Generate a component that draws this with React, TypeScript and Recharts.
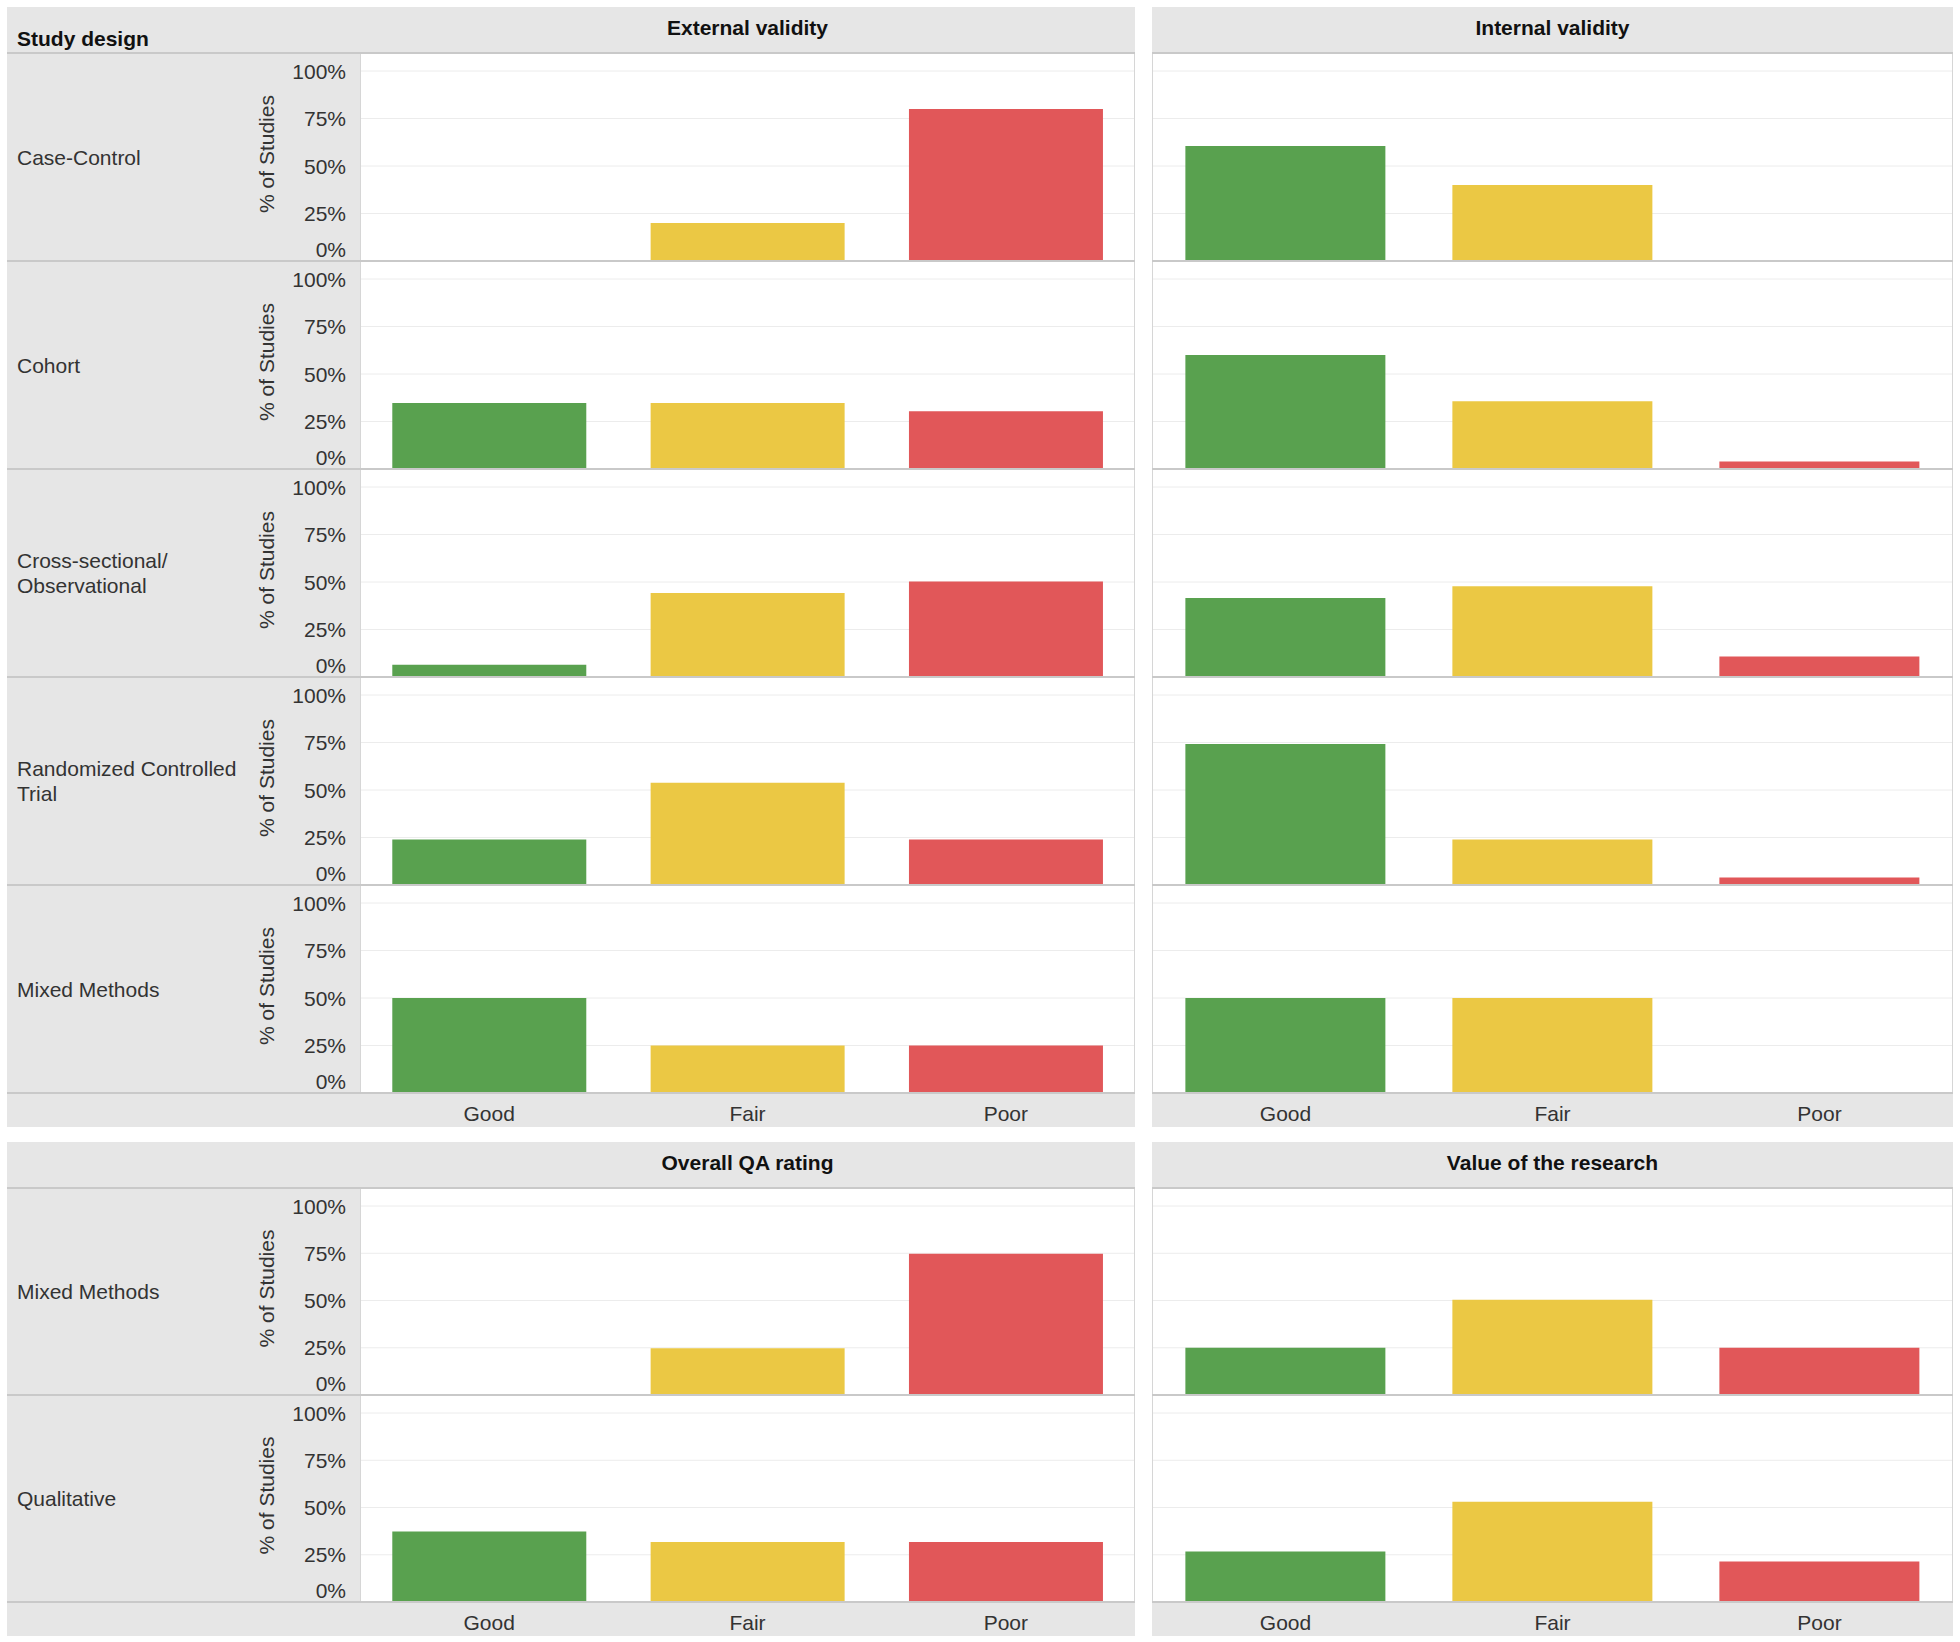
import { BarChart, Bar, XAxis, YAxis, CartesianGrid, Cell } from 'recharts';

const ratings = ['Good', 'Fair', 'Poor'];
const ratingColors = ['#59a14f', '#ebc844', '#e15759'];
const pctTicks = [0, 25, 50, 75, 100];

const topDesigns = [
  'Case-Control',
  'Cohort',
  'Cross-sectional/\nObservational',
  'Randomized Controlled\nTrial',
  'Mixed Methods',
];
const externalValidity = [
  [0, 20, 80],
  [34.7, 34.7, 30.4],
  [6.5, 44.2, 50.3],
  [23.9, 53.8, 23.9],
  [50, 25, 25],
];
const internalValidity = [
  [60.5, 40, 0],
  [60, 35.6, 4],
  [41.6, 47.8, 10.8],
  [74.2, 23.9, 3.9],
  [50, 50, 0],
];

const bottomDesigns = ['Mixed Methods', 'Qualitative'];
const overallQa = [
  [0, 24.8, 74.8],
  [37.3, 31.8, 31.8],
];
const researchValue = [
  [25, 50.4, 25],
  [26.7, 53, 21.4],
];

const GREY = '#e6e6e6';
const LINE = '#c9c9c9';
const TEXT = '#333333';
const FONT = 21;
const HEADER_H = 46;
const AXIS_H = 34;
const CHART_X = 200; // left chart starts inside the label column so the y axis sits there

function PctTick({ y, payload }: any) {
  const v = payload.value;
  return (
    <text x={146} y={v === 0 ? y - 12 : y} textAnchor="end" dominantBaseline="central" fontSize={FONT} fill={TEXT}>
      {`${v}%`}
    </text>
  );
}

function CategoryTick({ x, y, payload }: any) {
  return (
    <text x={x} y={y + 20} textAnchor="middle" dominantBaseline="central" fontSize={FONT} fill={TEXT}>
      {payload.value}
    </text>
  );
}

function StudiesLabel({ viewBox }: any) {
  const cy = viewBox ? viewBox.y + viewBox.height / 2 - 12 : 101;
  return (
    <text
      x={66}
      y={cy}
      transform={`rotate(-90, 66, ${cy})`}
      textAnchor="middle"
      dominantBaseline="central"
      fontSize={FONT}
      fill={TEXT}
    >
      % of Studies
    </text>
  );
}

interface PanelChartProps {
  values: number[];
  width: number;
  height: number;
  withAxis: boolean;
  withCategories: boolean;
}

function PanelChart({ values, width, height, withAxis, withCategories }: PanelChartProps) {
  const data = ratings.map((rating, i) => ({ rating, value: values[i] }));
  return (
    <BarChart
      width={width}
      height={height}
      data={data}
      margin={{ top: 18, right: 0, bottom: 0, left: 0 }}
      barCategoryGap="12.5%"
    >
      <CartesianGrid vertical={false} stroke="#ececec" />
      <XAxis
        dataKey="rating"
        hide={!withCategories}
        height={AXIS_H}
        axisLine={false}
        tickLine={false}
        tickSize={0}
        tickMargin={0}
        interval={0}
        tick={<CategoryTick />}
      />
      <YAxis
        type="number"
        domain={[0, 100]}
        ticks={pctTicks}
        interval={0}
        hide={!withAxis}
        width={160}
        axisLine={false}
        tickLine={false}
        tick={<PctTick />}
        label={<StudiesLabel />}
      />
      <Bar dataKey="value" isAnimationActive={false}>
        {data.map((d, i) => (
          <Cell key={d.rating} fill={ratingColors[i]} />
        ))}
      </Bar>
    </BarChart>
  );
}

interface BlockProps {
  top: number;
  rowH: number;
  designs: string[];
  leftTitle: string;
  rightTitle: string;
  leftValues: number[][];
  rightValues: number[][];
  showStudyDesign?: boolean;
}

function Block({ top, rowH, designs, leftTitle, rightTitle, leftValues, rightValues, showStudyDesign }: BlockProps) {
  const bodyTop = top + HEADER_H;
  const bodyH = rowH * designs.length;
  const last = designs.length - 1;
  const titleStyle: any = {
    position: 'absolute',
    top: 9,
    textAlign: 'center',
    fontWeight: 'bold',
    fontSize: FONT,
    lineHeight: '24px',
    color: '#111',
  };

  return (
    <>
      <div style={{ position: 'absolute', left: 7, top, width: 1128, height: HEADER_H, background: GREY }}>
        {showStudyDesign && (
          <div style={{ position: 'absolute', left: 10, bottom: 2, fontWeight: 'bold', fontSize: FONT, lineHeight: '24px', color: '#111' }}>
            Study design
          </div>
        )}
        <div style={{ ...titleStyle, left: 353, width: 775 }}>{leftTitle}</div>
      </div>
      <div style={{ position: 'absolute', left: 1152, top, width: 801, height: HEADER_H, background: GREY }}>
        <div style={{ ...titleStyle, left: 0, width: 801 }}>{rightTitle}</div>
      </div>

      <div style={{ position: 'absolute', left: 7, top: bodyTop, width: 353, height: bodyH, background: GREY }} />
      <div style={{ position: 'absolute', left: 7, top: bodyTop + bodyH, width: 1128, height: AXIS_H, background: GREY }} />
      <div style={{ position: 'absolute', left: 1152, top: bodyTop + bodyH, width: 801, height: AXIS_H, background: GREY }} />

      {designs.map((name, i) => (
        <div
          key={name}
          style={{
            position: 'absolute',
            left: 17,
            top: bodyTop + i * rowH,
            height: rowH,
            width: 250,
            display: 'flex',
            alignItems: 'center',
            whiteSpace: 'pre-line',
            fontSize: FONT,
            lineHeight: '25px',
            color: TEXT,
          }}
        >
          {name}
        </div>
      ))}

      {designs.map((name, i) => (
        <div key={`l-${name}`} style={{ position: 'absolute', left: CHART_X, top: bodyTop + i * rowH }}>
          <PanelChart
            values={leftValues[i]}
            width={1135 - CHART_X}
            height={rowH + (i === last ? AXIS_H : 0)}
            withAxis
            withCategories={i === last}
          />
        </div>
      ))}
      {designs.map((name, i) => (
        <div key={`r-${name}`} style={{ position: 'absolute', left: 1152, top: bodyTop + i * rowH }}>
          <PanelChart
            values={rightValues[i]}
            width={801}
            height={rowH + (i === last ? AXIS_H : 0)}
            withAxis={false}
            withCategories={i === last}
          />
        </div>
      ))}

      <div style={{ position: 'absolute', left: 360, top: bodyTop, width: 775, height: bodyH, border: '1px solid #d6d6d6', boxSizing: 'border-box' }} />
      <div style={{ position: 'absolute', left: 1152, top: bodyTop, width: 801, height: bodyH, border: '1px solid #d6d6d6', boxSizing: 'border-box' }} />

      {[0, ...designs.map((_, i) => i + 1)].map((k) => (
        <div key={`sep-${k}`}>
          <div style={{ position: 'absolute', left: 7, top: bodyTop + k * rowH - 1, width: 1128, height: 2, background: LINE }} />
          <div style={{ position: 'absolute', left: 1152, top: bodyTop + k * rowH - 1, width: 801, height: 2, background: LINE }} />
        </div>
      ))}
    </>
  );
}

export default function App() {
  return (
    <div
      style={{
        position: 'absolute',
        left: 0,
        top: 0,
        width: 1960,
        height: 1642,
        background: '#fff',
        fontFamily: '"Liberation Sans", Arial, sans-serif',
      }}
    >
      <Block
        top={7}
        rowH={208}
        designs={topDesigns}
        leftTitle="External validity"
        rightTitle="Internal validity"
        leftValues={externalValidity}
        rightValues={internalValidity}
        showStudyDesign
      />
      <Block
        top={1142}
        rowH={207}
        designs={bottomDesigns}
        leftTitle="Overall QA rating"
        rightTitle="Value of the research"
        leftValues={overallQa}
        rightValues={researchValue}
      />
    </div>
  );
}
